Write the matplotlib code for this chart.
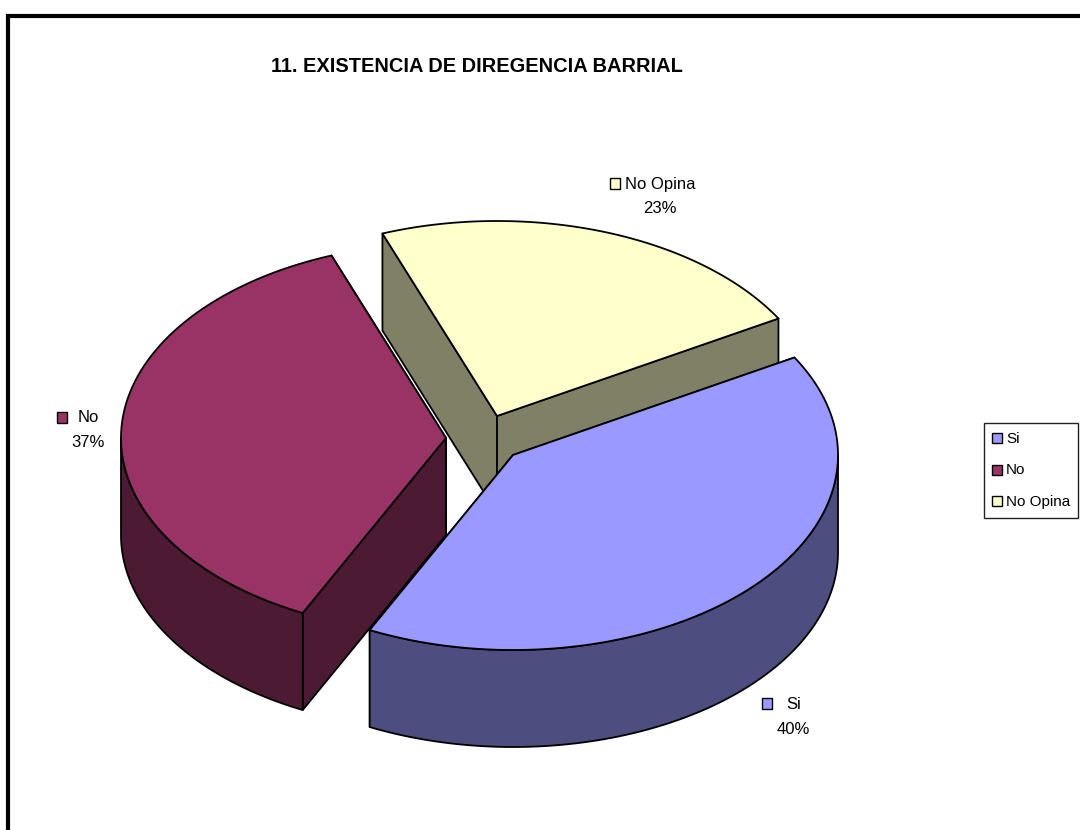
import numpy as np
import matplotlib
matplotlib.use("Agg")
import matplotlib.pyplot as plt
from matplotlib.patches import Polygon, Rectangle

plt.rcParams['font.family'] = ['Liberation Sans', 'DejaVu Sans']

title = "11. EXISTENCIA DE DIREGENCIA BARRIAL"
categories = ["Si", "No", "No Opina"]
values = [40.6, 37.0, 22.4]
pct_labels = ["40%", "37%", "23%"]
top_colors = ["#9999FF", "#993366", "#FFFFCC"]
side_colors = ["#4D4D80", "#4D1A33", "#808066"]
centers = [(513, 455), (446, 438), (497, 416)]
label_marker = [(767, 703), (62, 417), (615, 184)]
label_name = [(794, 704), (88, 417), (660, 184)]
label_pct = [(793, 729), (88, 442), (660, 208)]

RX, RY, DEPTH = 325, 195, 97
START = 30.0

fig = plt.figure(figsize=(10.8, 8.3), dpi=100)
ax = fig.add_axes([0, 0, 1, 1])
ax.set_xlim(0, 1080)
ax.set_ylim(830, 0)
ax.axis("off")

# frame (open to the right and bottom, as cropped in the reference)
ax.add_patch(Rectangle((8, 16), 1200, 1000, fc="white", ec="black", lw=3.0, zorder=0))


def arc(c, a0, a1, n=200):
    t = np.radians(np.linspace(a0, a1, n))
    return np.column_stack([c[0] + RX * np.cos(t), c[1] - RY * np.sin(t)])


LW = 1.3
spans = []
a = START
for v in values:
    b = a - 360 * v / sum(values)
    spans.append((a, b))
    a = b

# painter's order: far slice first
for i in [2, 1, 0]:
    c = centers[i]
    a0, a1 = spans[i]
    z = 10 - i
    ends = sorted([a0, a1], key=lambda q: -np.sin(np.radians(q)))
    for e in ends:
        p = arc(c, e, e, 1)[0]
        quad = [c, p, (p[0], p[1] + DEPTH), (c[0], c[1] + DEPTH)]
        ax.add_patch(Polygon(quad, fc=side_colors[i], ec="black", lw=LW, joinstyle="round", zorder=z))
    # outer rim: only the part on the front half of the ellipse
    k0 = np.floor(a1 / 360)
    for lo, hi in [(180 + 360 * k0, 360 + 360 * k0), (180 + 360 * (k0 + 1), 360 + 360 * (k0 + 1))]:
        f0, f1 = min(a0, hi), max(a1, lo)
        if f0 > f1:
            pts = arc(c, f0, f1)
            low = pts + [0, DEPTH]
            ax.add_patch(Polygon(np.vstack([pts, low[::-1]]), fc=side_colors[i], ec="black",
                                 lw=LW, joinstyle="round", zorder=z))
    ax.add_patch(Polygon(np.vstack([[c], arc(c, a0, a1)]), fc=top_colors[i], ec="black",
                         lw=LW, joinstyle="round", zorder=z))

# title
ax.text(476.5, 66, title, ha="center", va="center", fontsize=14.4, fontweight="bold", zorder=20)

# data labels
for i, name in enumerate(categories):
    mx, my = label_marker[i]
    ax.add_patch(Rectangle((mx - 5, my - 5.5), 10, 11, fc=top_colors[i], ec="black", lw=1.0, zorder=20))
    ax.text(*label_name[i], name, ha="center", va="center", fontsize=12, zorder=20)
    ax.text(*label_pct[i], pct_labels[i], ha="center", va="center", fontsize=12, zorder=20)

# legend
ax.add_patch(Rectangle((983.5, 422.5), 94, 95.5, fc="white", ec="#222222", lw=1.0, zorder=20))
for i, name in enumerate(categories):
    y = 438 + i * 31.5
    ax.add_patch(Rectangle((992, y - 5), 9.5, 10, fc=top_colors[i], ec="black", lw=1.0, zorder=21))
    ax.text(1006, y + 0.5, name, ha="left", va="center", fontsize=11, zorder=21)

fig.savefig("out.png", dpi=100)
